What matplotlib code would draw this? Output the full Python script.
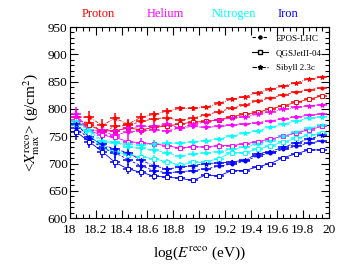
import numpy as np
import matplotlib
matplotlib.use("Agg")
import matplotlib.pyplot as plt
from matplotlib.ticker import MultipleLocator, FuncFormatter

plt.rcParams['font.family'] = ['Liberation Serif', 'DejaVu Serif']
plt.rcParams['mathtext.fontset'] = 'stix'

# bin centres, log10(E/eV)
logE = [18.05, 18.15, 18.25, 18.35, 18.45, 18.55, 18.65, 18.75, 18.85, 18.95,
        19.05, 19.15, 19.25, 19.35, 19.45, 19.55, 19.65, 19.75, 19.85, 19.95]

# statistical errors per bin (g/cm2)
yerr = [14, 12, 11, 10, 9, 8, 7, 6, 5, 5, 4, 4, 3.5, 3, 3, 2.5, 2.5, 2, 2, 2]

# <Xmax> values, g/cm2
p_epos = [778, 775, 758, 768, 770, 777, 782, 784, 779, 783, 789, 795, 801, 807, 815, 820, 826, 831, 835, 839]
p_qgs = [772, 770, 760, 760, 765, 762, 766, 769, 772, 776, 777, 780, 786, 790, 794, 800, 806, 812, 818, 824]
p_sib = [785, 785, 770, 783, 772, 785, 790, 796, 801, 801, 803, 810, 818, 822, 830, 836, 842, 848, 855, 858]

he_epos = [785, 762, 758, 752, 758, 760, 762, 760, 765, 768, 766, 768, 770, 772, 775, 778, 782, 786, 788, 791]
he_qgs = [780, 760, 752, 748, 740, 738, 736, 733, 728, 731, 730, 733, 733, 736, 740, 745, 750, 756, 762, 768]
he_sib = [790, 760, 762, 760, 765, 768, 768, 772, 765, 772, 776, 780, 783, 786, 790, 795, 799, 803, 806, 808]

n_epos = [775, 760, 738, 740, 730, 728, 724, 720, 713, 718, 720, 722, 726, 730, 735, 742, 750, 758, 765, 770]
n_qgs = [770, 755, 728, 722, 716, 712, 709, 703, 697, 702, 703, 709, 720, 720, 726, 732, 740, 746, 752, 755]
n_sib = [778, 762, 742, 738, 735, 734, 736, 737, 737, 740, 742, 745, 750, 755, 760, 766, 772, 778, 783, 786]

fe_epos = [765, 745, 728, 720, 707, 696, 687, 683, 685, 687, 690, 695, 699, 704, 714, 719, 726, 732, 738, 741]
fe_qgs = [758, 740, 722, 702, 690, 684, 677, 675, 673, 669, 679, 677, 687, 687, 694, 700, 711, 718, 725, 725]
fe_sib = [772, 748, 735, 726, 720, 706, 696, 690, 693, 696, 700, 701, 703, 706, 718, 722, 730, 738, 745, 752]

species = ["Proton", "Helium", "Nitrogen", "Iron"]
colors = ["#ff0000", "#ff00ff", "#00ffff", "#0000ff"]
models = ["EPOS-LHC", "QGSJetII-04", "Sibyll 2.3c"]

data = [[p_epos, p_qgs, p_sib],
        [he_epos, he_qgs, he_sib],
        [n_epos, n_qgs, n_sib],
        [fe_epos, fe_qgs, fe_sib]]

styles = [dict(marker="o", ms=2.2, ls=(0, (3, 2)), mfc=None),
          dict(marker="s", ms=3.0, ls="-", mfc="white"),
          dict(marker="*", ms=3.5, ls=(0, (4, 1.5, 1, 1.5)), mfc=None)]

fig = plt.figure(figsize=(3.49, 2.73), dpi=100)
ax = fig.add_axes([0.2, 0.201, 0.742, 0.70])

for vals, col in zip(data, colors):
    for y, st in zip(vals, styles):
        ax.errorbar(logE, y, xerr=0.04, yerr=yerr, color=col, ecolor=col,
                    marker=st["marker"], ms=st["ms"], ls=st["ls"], lw=0.6,
                    elinewidth=1.1, capsize=0, mec=col,
                    mfc=st["mfc"] if st["mfc"] else col, mew=0.7)

# legend (black)
handles = []
for m, st in zip(models, styles):
    h, = ax.plot([], [], color="black", marker=st["marker"], ms=st["ms"], ls=st["ls"],
                 lw=0.8, mfc=st["mfc"] if st["mfc"] else "black", mec="black")
    handles.append(h)
ax.legend(handles, models, loc="upper right", frameon=False, fontsize=6.5,
          handlelength=1.8, borderaxespad=0.4, labelspacing=0.7)

ax.set_xlim(18, 20)
ax.set_ylim(600, 950)
ax.xaxis.set_major_locator(MultipleLocator(0.2))
ax.xaxis.set_minor_locator(MultipleLocator(0.05))
ax.yaxis.set_major_locator(MultipleLocator(50))
ax.yaxis.set_minor_locator(MultipleLocator(10))
ax.xaxis.set_major_formatter(FuncFormatter(lambda v, p: "%g" % round(v, 1)))
ax.tick_params(which="both", direction="in", top=True, right=True, labelsize=9.5)
ax.tick_params(axis="x", pad=4.5)
ax.tick_params(axis="y", pad=1.5)
ax.tick_params(which="major", length=6, width=0.8)
ax.tick_params(which="minor", length=3, width=0.8)
for s in ax.spines.values():
    s.set_linewidth(0.8)

ax.set_xlabel(r"log($E^{\rm reco}$ (eV))", fontsize=11, labelpad=6)
ax.set_ylabel(r"<$X^{\rm reco}_{\rm max}$> (g/cm$^2$)", fontsize=11)

for name, col, xf in zip(species, colors, [0.281, 0.474, 0.669, 0.825]):
    fig.text(xf, 0.949, name, color=col, fontsize=9, ha="center", va="center")

fig.savefig("out.png", dpi=100)
